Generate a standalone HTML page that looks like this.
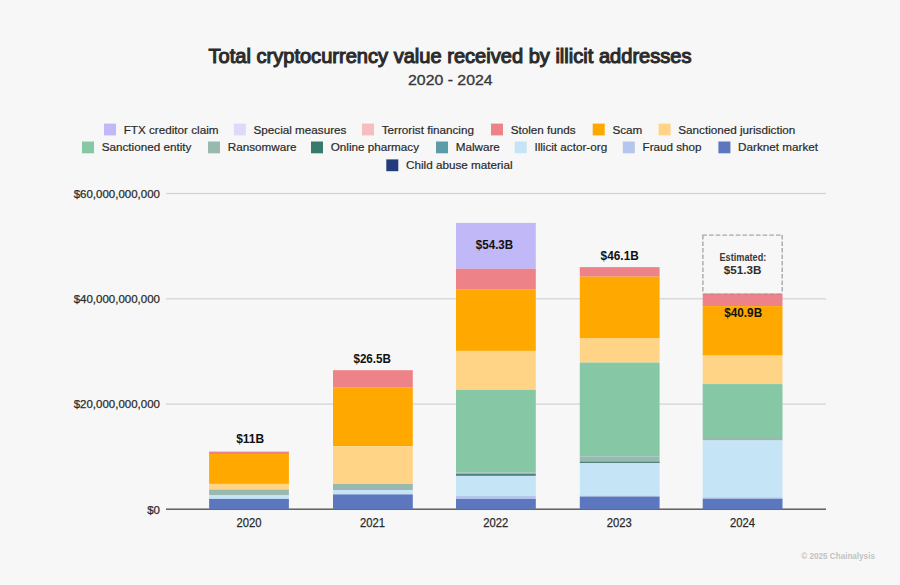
<!DOCTYPE html>
<html><head><meta charset="utf-8"><style>
html,body{margin:0;padding:0;background:#f7f7f7;}
body{width:900px;height:585px;overflow:hidden;}
svg{display:block;}
text{font-family:"Liberation Sans",sans-serif;}
.ax{font-size:11.5px;fill:#2a2a2a;stroke:#2a2a2a;stroke-width:0.25px;}
.yr{font-size:12.2px;fill:#2a2a2a;stroke:#2a2a2a;stroke-width:0.25px;}
.val{font-size:12.3px;font-weight:bold;fill:#111;}
.val2{font-size:11.2px;font-weight:bold;fill:#2e2e2e;}
.est{font-size:10.1px;font-weight:bold;fill:#3a3a3a;}
.title{font-size:19.5px;font-weight:normal;fill:#2b2b2b;stroke:#2b2b2b;stroke-width:1.05px;}
.sub{font-size:15.3px;fill:#383838;stroke:#383838;stroke-width:0.35px;}
.lg{font-size:11.7px;fill:#2a2a2a;stroke:#2a2a2a;stroke-width:0.2px;}
.cp{font-size:9.3px;fill:#c2c2c2;font-weight:bold;}
</style></head><body>
<svg width="900" height="585" viewBox="0 0 900 585">
<rect width="900" height="585" fill="#f7f7f7"/>
<rect x="166" y="192.90" width="660" height="1.2" fill="#d2d2d2"/>
<rect x="166" y="298.20" width="660" height="1.2" fill="#d2d2d2"/>
<rect x="166" y="403.50" width="660" height="1.2" fill="#d2d2d2"/>
<text x="160" y="197.7" text-anchor="end" class="ax">$60,000,000,000</text>
<text x="160" y="303.0" text-anchor="end" class="ax">$40,000,000,000</text>
<text x="160" y="408.3" text-anchor="end" class="ax">$20,000,000,000</text>
<text x="160" y="513.5" text-anchor="end" class="ax">$0</text>
<rect x="166" y="508.50" width="660" height="1.4" fill="#555"/>
<rect x="209.1" y="451.6" width="79.8" height="2.40" fill="#ee8289"/>
<rect x="209.1" y="454.0" width="79.8" height="29.90" fill="#ffa800"/>
<rect x="209.1" y="483.9" width="79.8" height="5.70" fill="#ffd487"/>
<rect x="209.1" y="489.6" width="79.8" height="5.40" fill="#99b9b0"/>
<rect x="209.1" y="495.0" width="79.8" height="3.90" fill="#c5e4f6"/>
<rect x="209.1" y="498.9" width="79.8" height="10.40" fill="#5d77bf"/>
<rect x="333.0" y="370.2" width="79.8" height="17.50" fill="#ee8289"/>
<rect x="333.0" y="387.7" width="79.8" height="58.50" fill="#ffa800"/>
<rect x="333.0" y="446.2" width="79.8" height="37.70" fill="#ffd487"/>
<rect x="333.0" y="483.9" width="79.8" height="6.10" fill="#99b9b0"/>
<rect x="333.0" y="490.0" width="79.8" height="4.40" fill="#c5e4f6"/>
<rect x="333.0" y="494.4" width="79.8" height="14.90" fill="#5d77bf"/>
<rect x="456.0" y="222.9" width="79.8" height="45.90" fill="#c1b8f7"/>
<rect x="456.0" y="268.8" width="79.8" height="20.40" fill="#ee8289"/>
<rect x="456.0" y="289.2" width="79.8" height="61.70" fill="#ffa800"/>
<rect x="456.0" y="350.9" width="79.8" height="38.90" fill="#ffd487"/>
<rect x="456.0" y="389.8" width="79.8" height="82.60" fill="#86c7a5"/>
<rect x="456.0" y="472.4" width="79.8" height="1.50" fill="#99b9b0"/>
<rect x="456.0" y="473.9" width="79.8" height="2.00" fill="#4e8177"/>
<rect x="456.0" y="475.9" width="79.8" height="19.90" fill="#c5e4f6"/>
<rect x="456.0" y="495.8" width="79.8" height="3.10" fill="#b4c5ee"/>
<rect x="456.0" y="498.9" width="79.8" height="10.40" fill="#5d77bf"/>
<rect x="579.8" y="267.1" width="79.8" height="9.60" fill="#ee8289"/>
<rect x="579.8" y="276.7" width="79.8" height="61.30" fill="#ffa800"/>
<rect x="579.8" y="338.0" width="79.8" height="24.60" fill="#ffd487"/>
<rect x="579.8" y="362.6" width="79.8" height="93.80" fill="#86c7a5"/>
<rect x="579.8" y="456.4" width="79.8" height="5.10" fill="#99b9b0"/>
<rect x="579.8" y="461.5" width="79.8" height="1.60" fill="#4e8177"/>
<rect x="579.8" y="463.1" width="79.8" height="32.50" fill="#c5e4f6"/>
<rect x="579.8" y="495.6" width="79.8" height="1.00" fill="#b4c5ee"/>
<rect x="579.8" y="496.6" width="79.8" height="12.70" fill="#5d77bf"/>
<rect x="702.7" y="293.5" width="79.8" height="12.60" fill="#ee8289"/>
<rect x="702.7" y="306.1" width="79.8" height="49.50" fill="#ffa800"/>
<rect x="702.7" y="355.6" width="79.8" height="28.50" fill="#ffd487"/>
<rect x="702.7" y="384.1" width="79.8" height="53.90" fill="#86c7a5"/>
<rect x="702.7" y="438.0" width="79.8" height="2.50" fill="#99b9b0"/>
<rect x="702.7" y="440.5" width="79.8" height="56.80" fill="#c5e4f6"/>
<rect x="702.7" y="497.3" width="79.8" height="1.50" fill="#b4c5ee"/>
<rect x="702.7" y="498.8" width="79.8" height="10.50" fill="#5d77bf"/>
<text x="249.0" y="526.7" text-anchor="middle" class="yr" textLength="25" lengthAdjust="spacingAndGlyphs">2020</text>
<text x="372.4" y="526.7" text-anchor="middle" class="yr" textLength="25" lengthAdjust="spacingAndGlyphs">2021</text>
<text x="495.8" y="526.7" text-anchor="middle" class="yr" textLength="25" lengthAdjust="spacingAndGlyphs">2022</text>
<text x="619.2" y="526.7" text-anchor="middle" class="yr" textLength="25" lengthAdjust="spacingAndGlyphs">2023</text>
<text x="742.6" y="526.7" text-anchor="middle" class="yr" textLength="25" lengthAdjust="spacingAndGlyphs">2024</text>
<text x="250.2" y="442.9" text-anchor="middle" class="val" textLength="28.0" lengthAdjust="spacingAndGlyphs">$11B</text>
<text x="372.2" y="363.2" text-anchor="middle" class="val" textLength="37.6" lengthAdjust="spacingAndGlyphs">$26.5B</text>
<text x="494.5" y="249.3" text-anchor="middle" class="val" textLength="37.4" lengthAdjust="spacingAndGlyphs">$54.3B</text>
<text x="619.7" y="260.0" text-anchor="middle" class="val" textLength="38.2" lengthAdjust="spacingAndGlyphs">$46.1B</text>
<text x="743.2" y="316.6" text-anchor="middle" class="val" textLength="37.8" lengthAdjust="spacingAndGlyphs">$40.9B</text>
<path d="M702.3 235.1 H782.8" fill="none" stroke="#a8a8a8" stroke-width="1.4" stroke-dasharray="4.6 2.1"/>
<path d="M702.9 235.1 V293.5" fill="none" stroke="#a8a8a8" stroke-width="1.4" stroke-dasharray="4.3 2.2"/>
<path d="M782.2 235.1 V293.5" fill="none" stroke="#a8a8a8" stroke-width="1.4" stroke-dasharray="4.3 2.2"/>
<path d="M703 294.1 H782.5" fill="none" stroke="#808080" stroke-opacity="0.35" stroke-width="1.2" stroke-dasharray="4.6 2.1"/>
<text x="742.9" y="260.8" text-anchor="middle" class="est" textLength="46.8" lengthAdjust="spacingAndGlyphs">Estimated:</text>
<text x="742.6" y="273.6" text-anchor="middle" class="val2" textLength="37.6" lengthAdjust="spacingAndGlyphs">$51.3B</text>
<text x="450" y="62.5" text-anchor="middle" class="title" textLength="483" lengthAdjust="spacingAndGlyphs">Total cryptocurrency value received by illicit addresses</text>
<text x="450.3" y="84.6" text-anchor="middle" class="sub" textLength="84.5" lengthAdjust="spacingAndGlyphs">2020 - 2024</text>
<rect x="104.0" y="123.6" width="12" height="11.8" fill="#c1b8f7"/>
<text x="123.7" y="133.5" class="lg">FTX creditor claim</text>
<rect x="233.8" y="123.6" width="12" height="11.8" fill="#dcd9fb"/>
<text x="253.5" y="133.5" class="lg">Special measures</text>
<rect x="362.0" y="123.6" width="12" height="11.8" fill="#f7bec2"/>
<text x="381.7" y="133.5" class="lg">Terrorist financing</text>
<rect x="491.0" y="123.6" width="12" height="11.8" fill="#ee8289"/>
<text x="510.7" y="133.5" class="lg">Stolen funds</text>
<rect x="592.7" y="123.6" width="12" height="11.8" fill="#ffa800"/>
<text x="612.4" y="133.5" class="lg">Scam</text>
<rect x="658.6" y="123.6" width="12" height="11.8" fill="#ffd487"/>
<text x="678.3" y="133.5" class="lg">Sanctioned jurisdiction</text>
<rect x="82.0" y="141.5" width="12" height="11.8" fill="#86c7a5"/>
<text x="101.7" y="151.4" class="lg">Sanctioned entity</text>
<rect x="208.0" y="141.5" width="12" height="11.8" fill="#99b9b0"/>
<text x="227.7" y="151.4" class="lg">Ransomware</text>
<rect x="311.0" y="141.5" width="12" height="11.8" fill="#357a6a"/>
<text x="330.7" y="151.4" class="lg">Online pharmacy</text>
<rect x="436.0" y="141.5" width="12" height="11.8" fill="#5c9ca8"/>
<text x="455.7" y="151.4" class="lg">Malware</text>
<rect x="514.7" y="141.5" width="12" height="11.8" fill="#c5e4f6"/>
<text x="534.4" y="151.4" class="lg">Illicit actor-org</text>
<rect x="622.8" y="141.5" width="12" height="11.8" fill="#b4c5ee"/>
<text x="642.5" y="151.4" class="lg">Fraud shop</text>
<rect x="718.4" y="141.5" width="12" height="11.8" fill="#5d77bf"/>
<text x="738.1" y="151.4" class="lg">Darknet market</text>
<rect x="386.3" y="159.4" width="12" height="11.8" fill="#233b7a"/>
<text x="406.0" y="169.3" class="lg">Child abuse material</text>
<text x="801.3" y="558.7" class="cp" textLength="73.6" lengthAdjust="spacingAndGlyphs">© 2025 Chainalysis</text>
</svg>
</body></html>
